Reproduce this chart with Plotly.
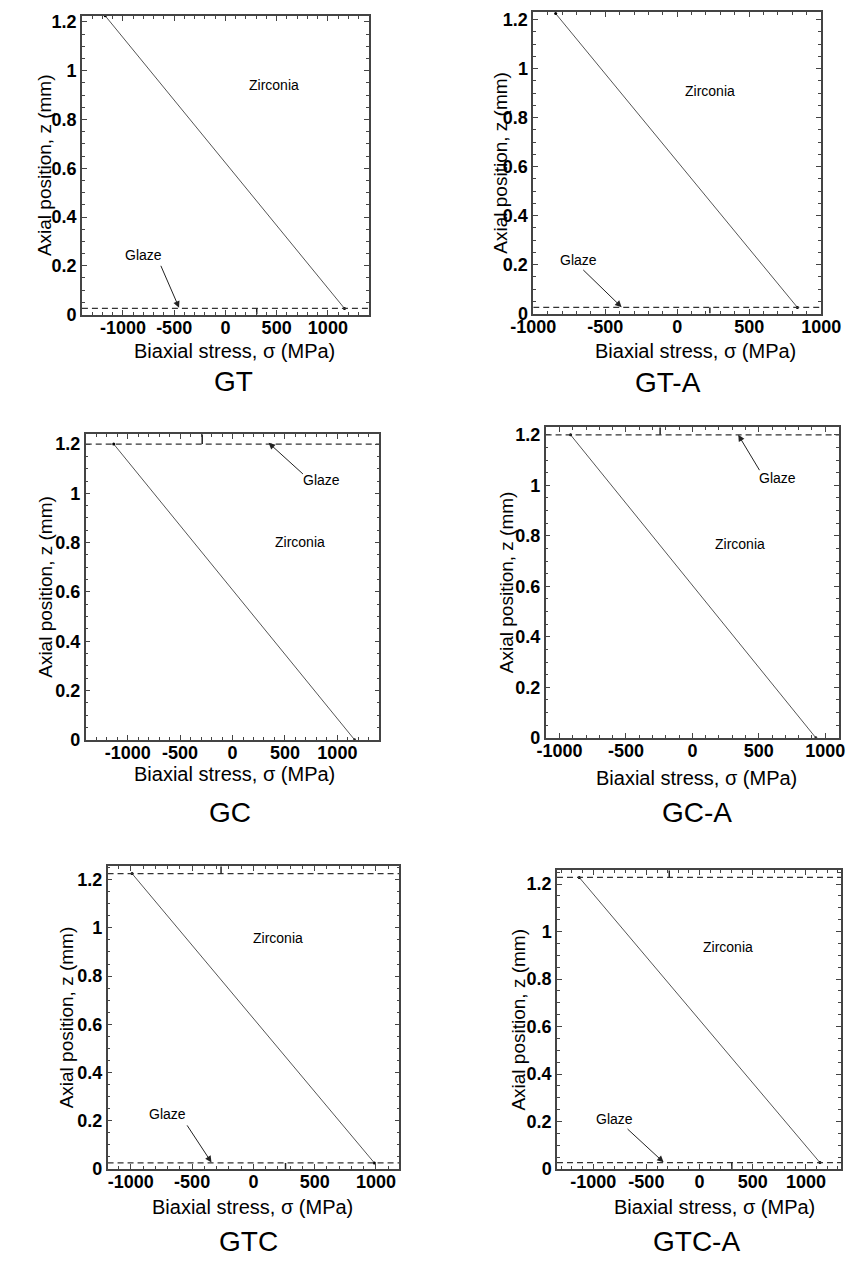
import plotly.graph_objects as go

W, H = 863, 1265

# ---------------- data ----------------
panels = ["GT", "GT-A", "GC", "GC-A", "GTC", "GTC-A"]
# zirconia stress line end points (MPa, mm)
sigma_top = [-1172, -844, -1133, -917, -990, -1131]
sigma_bottom = [1162, 835, 1164, 929, 987, 1131]
z_top = [1.225, 1.225, 1.2, 1.2, 1.225, 1.228]
z_bottom = [0.025, 0.025, 0.0, 0.0, 0.025, 0.027]
# glaze interface lines (mm)
glaze_z = [[0.025], [0.025], [1.2], [1.2], [0.025, 1.225], [0.027, 1.228]]
# small marks in the glaze layers (MPa)
glaze_mark_sigma = [[306], [227], [-289], [-243], [262, -264], [303, -285]]
# label positions (data coords)
zirconia_xy = [(477, 0.943), (227, 0.909), (642, 0.803), (357, 0.769), (202, 0.959), (265, 0.937)]
glaze_xy = [(-795, 0.243), (-684, 0.219), (852, 1.056), (643, 1.030), (-705, 0.228), (-803, 0.209)]
arrow_tail = [(-636, 0.206), (-663, 0.184), (686, 1.073), (512, 1.054), (-549, 0.187), (-691, 0.174)]
arrow_head = [(-452, 0.028), (-386, 0.026), (344, 1.205), (345, 1.2), (-342, 0.027), (-338, 0.028)]
# axis ranges
x_ranges = [(-1400, 1400), (-1000, 1000), (-1400, 1400), (-1105, 1105), (-1190, 1190), (-1340, 1330)]
y_tops = [1.225, 1.232, 1.24, 1.23, 1.255, 1.258]
x_tickvals = [-1000, -500, 0, 500, 1000]
x_ticktext = ["-1000", "-500", "0", "500", "1000"]
y_tickvals = [0, 0.2, 0.4, 0.6, 0.8, 1.0, 1.2]
y_ticktext = ["0", "0.2", "0.4", "0.6", "0.8", "1", "1.2"]

# ---------------- layout geometry (pixels) ----------------
boxes = [(62, 364, 12, 314), (537, 840, 8, 313), (66, 375, 435, 744),
         (550, 859, 428, 742), (89, 396, 872, 1178), (562, 861, 876, 1178)]
title_pos = [(222, 382), (679, 383), (218, 818), (709, 818), (237, 1251), (709, 1251)]
xtitle_pos = [(223, 351), (708, 351), (223, 779), (709, 783), (242, 1216), (728, 1216)]
ytitle_x = [22, 503, 24, 509, 46, 522]

FRAME = "#444444"
LINE = "#555555"
fig = go.Figure()
annotations = []

def px(x):
    return x / W

def py(y):
    return 1 - y / H

FONT = "Liberation Sans, Arial"
tickfont = dict(family=FONT, size=18, color="black", weight="bold")
xtitlefont = dict(family=FONT, size=20, color="black")
ytitlefont = dict(family=FONT, size=19, color="black")
labelfont = dict(family=FONT, size=14, color="black")

for i in range(6):
    n = "" if i == 0 else str(i + 1)
    xa, ya = "x" + n, "y" + n
    l, r, t, b = boxes[i]
    ytop = y_tops[i]

    # zirconia stress line
    fig.add_trace(go.Scatter(x=[sigma_top[i], sigma_bottom[i]], y=[z_top[i], z_bottom[i]],
                             mode="lines+markers", line=dict(color=LINE, width=1),
                             marker=dict(size=3, color="black"),
                             xaxis=xa, yaxis=ya, showlegend=False, hoverinfo="skip"))
    # glaze interfaces
    for gz in glaze_z[i]:
        fig.add_trace(go.Scatter(x=list(x_ranges[i]), y=[gz, gz], mode="lines",
                                 line=dict(color="#333333", width=1.2, dash="6px,4px"),
                                 xaxis=xa, yaxis=ya, showlegend=False, hoverinfo="skip"))
    # small marks in glaze layers
    for gz, ms in zip(glaze_z[i], glaze_mark_sigma[i]):
        if gz < 0.6:
            y0, y1 = 0, gz
        else:
            y0, y1 = gz, ytop
        fig.add_trace(go.Scatter(x=[ms, ms], y=[y0, y1], mode="lines",
                                 line=dict(color="#222222", width=1.5),
                                 xaxis=xa, yaxis=ya, showlegend=False, hoverinfo="skip"))

    common = dict(showgrid=False, zeroline=False, showline=True, linecolor=FRAME, linewidth=1.5,
                  mirror="ticks", ticks="inside", ticklen=5, tickcolor=FRAME, tickwidth=1,
                  tickfont=tickfont)
    fig.update_layout(**{
        ("xaxis" + n): dict(domain=[px(l), px(r)], anchor=ya, range=list(x_ranges[i]),
                            tickvals=x_tickvals, ticktext=x_ticktext,
                            minor=dict(dtick=100, tick0=0, ticks="inside", ticklen=3,
                                       tickcolor=FRAME, showgrid=False),
                            ticklabelstandoff=-4, **common),
        ("yaxis" + n): dict(domain=[py(b), py(t)], anchor=xa, range=[0, ytop],
                            tickvals=y_tickvals, ticktext=y_ticktext,
                            minor=dict(dtick=0.05, tick0=0, ticks="inside", ticklen=3,
                                       tickcolor=FRAME, showgrid=False),
                            ticklabelstandoff=0, **common),
    })

    # text labels
    annotations.append(dict(x=zirconia_xy[i][0], y=zirconia_xy[i][1], xref=xa, yref=ya,
                            text="Zirconia", showarrow=False, font=labelfont))
    annotations.append(dict(x=glaze_xy[i][0], y=glaze_xy[i][1], xref=xa, yref=ya,
                            text="Glaze", showarrow=False, font=labelfont))
    annotations.append(dict(x=arrow_head[i][0], y=arrow_head[i][1], xref=xa, yref=ya,
                            ax=arrow_tail[i][0], ay=arrow_tail[i][1], axref=xa, ayref=ya,
                            text="", showarrow=True, arrowhead=2, arrowsize=1.3,
                            arrowwidth=1, arrowcolor="#222222", standoff=0))
    # axis titles
    annotations.append(dict(x=px(xtitle_pos[i][0]), y=py(xtitle_pos[i][1]), xref="paper", yref="paper",
                            text="Biaxial stress, σ (MPa)", showarrow=False, font=xtitlefont,
                            xanchor="center", yanchor="middle"))
    annotations.append(dict(x=px(ytitle_x[i]), y=py((t + b) / 2), xref="paper", yref="paper",
                            text="Axial position, z (mm)", showarrow=False, font=ytitlefont,
                            textangle=-90, xanchor="center", yanchor="middle"))
    # panel label
    annotations.append(dict(x=px(title_pos[i][0]), y=py(title_pos[i][1]), xref="paper", yref="paper",
                            text=panels[i], showarrow=False,
                            font=dict(family=FONT, size=28, color="black"),
                            xanchor="center", yanchor="middle"))

fig.update_layout(width=W, height=H, margin=dict(l=0, r=0, t=0, b=0),
                  paper_bgcolor="white", plot_bgcolor="white",
                  annotations=annotations, showlegend=False)

fig.write_html("out.html", config={"displayModeBar": False},
               post_script="document.body.style.margin='0';document.body.style.overflow='hidden';")
